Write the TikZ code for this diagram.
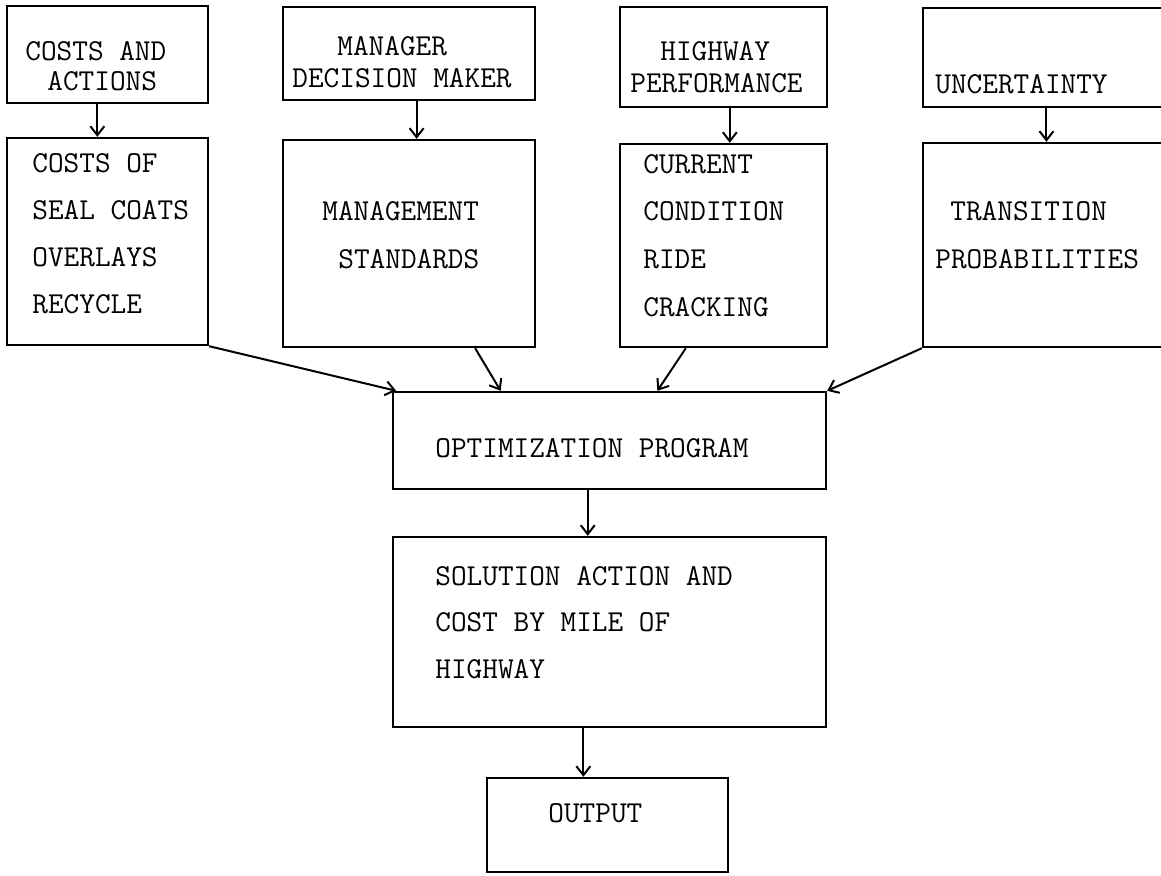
\documentclass[tikz,border=0pt]{standalone}
\usepackage{fontspec}
\usetikzlibrary{fit}
\usetikzlibrary{calc}
\usetikzlibrary{arrows.meta}

\tikzset{
  box/.style={draw, line width=1.2pt, inner sep=0pt},
  txt/.style={anchor=base west, inner sep=0pt,
              font=\ttfamily\fontsize{15.2}{18}\selectfont},
  arr/.style={line width=1pt, -{Straight Barb[length=4.5pt,width=7pt]}},
}

\begin{document}
\begin{tikzpicture}[x=0.5pt,y=-0.5pt]
  \useasboundingbox (0,0) rectangle (1161,875);
  \clip (0,0) rectangle (1161,875);

% inputs
\node [box, fit={(7,6) (208,103)}]     (costsIn) {};
\node [box, fit={(283,7) (535,100)}]   (managerIn) {};
\node [box, fit={(620,7) (827,107)}]   (highwayIn) {};
\node [box, fit={(923,8) (1175,107)}]  (uncertIn) {};

% what goes into the program
\node [box, fit={(7,138) (208,345)}]    (costs) {};
\node [box, fit={(283,140) (535,347)}]  (standards) {};
\node [box, fit={(620,144) (827,347)}]  (condition) {};
\node [box, fit={(923,143) (1175,347)}] (transition) {};

\node [box, fit={(393,392) (826,489)}] (opt) {};
\node [box, fit={(393,537) (826,727)}] (sol) {};
\node [box, fit={(487,778) (728,872)}] (out) {};

% texts
\node [txt] (costsIn-a)   at (25,60)  {COSTS AND};
\node [txt] (costsIn-b)   at (47,90)  {ACTIONS};
\node [txt] (managerIn-a) at (337,55) {MANAGER};
\node [txt] (managerIn-b) at (292,87) {DECISION MAKER};
\node [txt] (highwayIn-a) at (660,60) {HIGHWAY};
\node [txt] (highwayIn-b) at (630,92) {PERFORMANCE};
\node [txt] (uncertIn-a)  at (935,93) {UNCERTAINTY};

\foreach \t [count=\i, evaluate={\y = 172+47*(\i-1)}] in {COSTS OF,SEAL COATS,OVERLAYS,RECYCLE}
  \node [txt] (costs-\i) at (32,\y) {\t};
\node [txt] (standards-a) at (322,220) {MANAGEMENT};
\node [txt] (standards-b) at (338,268) {STANDARDS};
\foreach \t [count=\i, evaluate={\y = 173+47.7*(\i-1)}] in {CURRENT,CONDITION,RIDE,CRACKING}
  \node [txt] (condition-\i) at (643,\y) {\t};
\node [txt] (transition-a) at (950,220) {TRANSITION};
\node [txt] (transition-b) at (935,268) {PROBABILITIES};

\node [txt] (opt-a) at (435,457) {OPTIMIZATION PROGRAM};
\foreach \t [count=\i, evaluate={\y = 585+46.5*(\i-1)}] in {SOLUTION ACTION AND,COST BY MILE OF,HIGHWAY}
  \node [txt] (sol-\i) at (435,\y) {\t};
\node [txt] (out-a) at (548,822) {OUTPUT};

% arrows
\foreach \a/\b/\f in {costsIn/costs/.45, managerIn/standards/.53,
                      highwayIn/condition/.53, uncertIn/transition/.49}
  \draw [arr] ($(\a.south west)!\f!(\a.south east)$)
           -- ($(\b.north west)!\f!(\b.north east)$);

\draw [arr] (costs.south east) -- ($(opt.north west)!.01!(opt.north east)$);
\draw [arr] ($(standards.south west)!.76!(standards.south east)$)
         -- ($(opt.north west)!.25!(opt.north east)$);
\draw [arr] ($(condition.south west)!.32!(condition.south east)$)
         -- ($(opt.north west)!.61!(opt.north east)$);
\draw [arr] (transition.south west) -- (opt.north east);

\coordinate (optOut) at ($(opt.south west)!.45!(opt.south east)$);
\draw [arr] (optOut) -- (optOut |- sol.north);
\coordinate (solOut) at ($(sol.south west)!.44!(sol.south east)$);
\draw [arr] (solOut) -- (solOut |- out.north);

\end{tikzpicture}
\end{document}
